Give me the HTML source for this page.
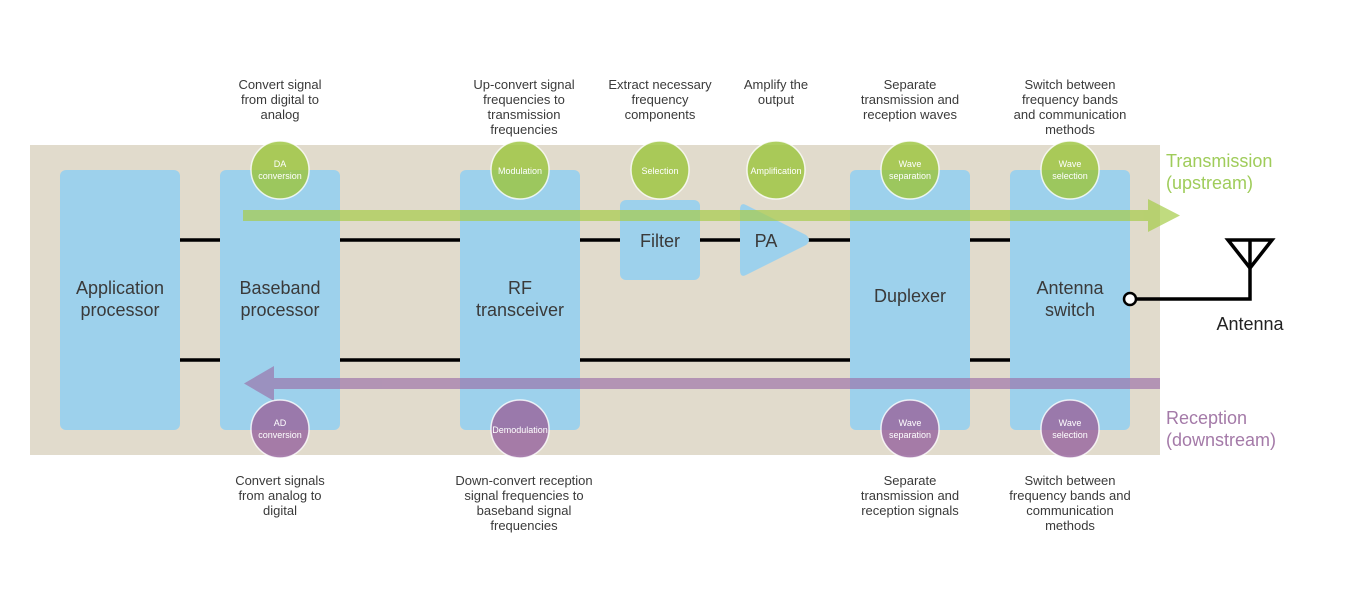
<!DOCTYPE html>
<html><head><meta charset="utf-8"><style>
html,body{margin:0;padding:0;background:#fff}
svg{display:block}
text{font-family:"Liberation Sans",sans-serif}
.d{font-size:13px;fill:#3a3a3a;text-anchor:middle}
.b{font-size:18px;fill:#3a3a3a;text-anchor:middle}
.c{font-size:9px;fill:#fff;text-anchor:middle}
</style></head><body>
<svg width="1360" height="600" viewBox="0 0 1360 600" xmlns="http://www.w3.org/2000/svg">
<rect x="30" y="145" width="1130" height="310" fill="#e1dbcc"/>
<!-- lines -->
<g stroke="#000" stroke-width="3.5">
<line x1="180" y1="240" x2="1010" y2="240"/>
<line x1="180" y1="360" x2="1010" y2="360"/>
</g>
<path d="M1130 299 H1250 V240" fill="none" stroke="#000" stroke-width="3.5"/>
<path d="M1228 240 H1272 L1250 268 Z" fill="none" stroke="#000" stroke-width="3.5"/>
<!-- boxes -->
<g fill="#9dd1ec">
<rect x="60" y="170" width="120" height="260" rx="6"/>
<rect x="220" y="170" width="120" height="260" rx="6"/>
<rect x="460" y="170" width="120" height="260" rx="6"/>
<rect x="850" y="170" width="120" height="260" rx="6"/>
<rect x="1010" y="170" width="120" height="260" rx="6"/>
<rect x="620" y="200" width="80" height="80" rx="6"/>
<path d="M746 205 L806 235 Q812 240 806 245 L746 275 Q740 278 740 270 V210 Q740 202 746 205 Z"/>
</g>
<circle cx="1130" cy="299" r="6" fill="#fff" stroke="#000" stroke-width="2.5"/>
<text class="b" x="120" y="294">Application</text><text class="b" x="120" y="316">processor</text>
<text class="b" x="280" y="294">Baseband</text><text class="b" x="280" y="316">processor</text>
<text class="b" x="520" y="294">RF</text><text class="b" x="520" y="316">transceiver</text>
<text class="b" x="910" y="302">Duplexer</text>
<text class="b" x="1070" y="294">Antenna</text><text class="b" x="1070" y="316">switch</text>
<text class="b" x="660" y="247">Filter</text>
<text class="b" x="766" y="247">PA</text>
<!-- arrows -->
<g fill="#a6cc4a" opacity="0.7">
<rect x="243" y="210" width="906" height="11"/>
<path d="M1148 199 L1180 215.5 L1148 232 Z"/>
</g>
<g fill="#9a6fa8" opacity="0.65">
<rect x="273" y="378" width="887" height="11"/>
<path d="M274 366 L244 383.5 L274 401 Z"/>
</g>
<!-- circles -->
<g fill="#9cc43e" fill-opacity="0.82" stroke="#fff" stroke-opacity="0.8" stroke-width="1.5">
<circle cx="280" cy="170" r="29"/><circle cx="520" cy="170" r="29"/><circle cx="660" cy="170" r="29"/>
<circle cx="776" cy="170" r="29"/><circle cx="910" cy="170" r="29"/><circle cx="1070" cy="170" r="29"/>
</g>
<g fill="#9a6aa0" fill-opacity="0.85" stroke="#fff" stroke-opacity="0.8" stroke-width="1.5">
<circle cx="280" cy="429" r="29"/><circle cx="520" cy="429" r="29"/>
<circle cx="910" cy="429" r="29"/><circle cx="1070" cy="429" r="29"/>
</g>
<text class="c" x="280" y="167">DA</text><text class="c" x="280" y="179">conversion</text>
<text class="c" x="520" y="174">Modulation</text>
<text class="c" x="660" y="174">Selection</text>
<text class="c" x="776" y="174">Amplification</text>
<text class="c" x="910" y="167">Wave</text><text class="c" x="910" y="179">separation</text>
<text class="c" x="1070" y="167">Wave</text><text class="c" x="1070" y="179">selection</text>
<text class="c" x="280" y="426">AD</text><text class="c" x="280" y="438">conversion</text>
<text class="c" x="520" y="433">Demodulation</text>
<text class="c" x="910" y="426">Wave</text><text class="c" x="910" y="438">separation</text>
<text class="c" x="1070" y="426">Wave</text><text class="c" x="1070" y="438">selection</text>
<!-- top descriptions -->
<text class="d" x="280" y="89">Convert signal</text><text class="d" x="280" y="104">from digital to</text><text class="d" x="280" y="119">analog</text>
<text class="d" x="524" y="89">Up-convert signal</text><text class="d" x="524" y="104">frequencies to</text><text class="d" x="524" y="119">transmission</text><text class="d" x="524" y="134">frequencies</text>
<text class="d" x="660" y="89">Extract necessary</text><text class="d" x="660" y="104">frequency</text><text class="d" x="660" y="119">components</text>
<text class="d" x="776" y="89">Amplify the</text><text class="d" x="776" y="104">output</text>
<text class="d" x="910" y="89">Separate</text><text class="d" x="910" y="104">transmission and</text><text class="d" x="910" y="119">reception waves</text>
<text class="d" x="1070" y="89">Switch between</text><text class="d" x="1070" y="104">frequency bands</text><text class="d" x="1070" y="119">and communication</text><text class="d" x="1070" y="134">methods</text>
<!-- bottom descriptions -->
<text class="d" x="280" y="485">Convert signals</text><text class="d" x="280" y="500">from analog to</text><text class="d" x="280" y="515">digital</text>
<text class="d" x="524" y="485">Down-convert reception</text><text class="d" x="524" y="500">signal frequencies to</text><text class="d" x="524" y="515">baseband signal</text><text class="d" x="524" y="530">frequencies</text>
<text class="d" x="910" y="485">Separate</text><text class="d" x="910" y="500">transmission and</text><text class="d" x="910" y="515">reception signals</text>
<text class="d" x="1070" y="485">Switch between</text><text class="d" x="1070" y="500">frequency bands and</text><text class="d" x="1070" y="515">communication</text><text class="d" x="1070" y="530">methods</text>
<!-- side labels -->
<text x="1166" y="167" font-size="18" fill="#9fcc5a">Transmission</text>
<text x="1166" y="189" font-size="18" fill="#9fcc5a">(upstream)</text>
<text x="1166" y="424" font-size="18" fill="#a47aa8">Reception</text>
<text x="1166" y="446" font-size="18" fill="#a47aa8">(downstream)</text>
<text x="1250" y="330" font-size="18" fill="#222" text-anchor="middle">Antenna</text>
</svg>
</body></html>
